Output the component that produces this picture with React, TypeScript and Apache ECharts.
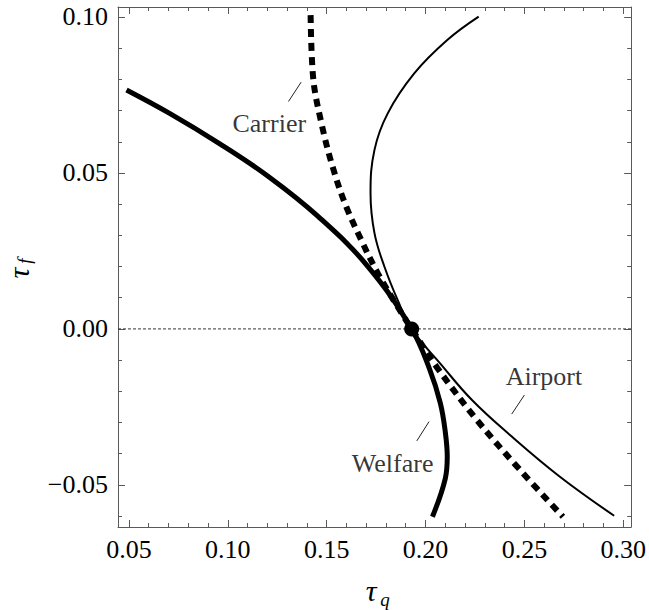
import React, { useEffect, useRef } from "react";
import * as echarts from "echarts";

const SERIF = "Liberation Serif";

// axis ranges and ticks
const X_MIN = 0.0445;
const X_MAX = 0.304;
const Y_MIN = -0.0635;
const Y_MAX = 0.1032;
const xMajorTicks = [0.05, 0.1, 0.15, 0.2, 0.25, 0.3];
const xMinorTicks = [
  0.06, 0.07, 0.08, 0.09, 0.11, 0.12, 0.13, 0.14, 0.16, 0.17, 0.18, 0.19,
  0.21, 0.22, 0.23, 0.24, 0.26, 0.27, 0.28, 0.29,
];
const yMajorTicks = [-0.05, 0, 0.05, 0.1];
const yMinorTicks = [
  -0.06, -0.04, -0.03, -0.02, -0.01, 0.01, 0.02, 0.03, 0.04, 0.06, 0.07, 0.08, 0.09,
];

// curves [tau_q, tau_f]
const welfareCurve = [
  [0.0488, 0.0766], [0.0706, 0.0691], [0.0956, 0.0595], [0.1207, 0.0488],
  [0.1458, 0.036], [0.1709, 0.02], [0.193, 0.0], [0.2022, -0.0131],
  [0.2075, -0.0238], [0.2100, -0.0330], [0.2110, -0.0410], [0.2100, -0.0480],
  [0.2035, -0.0602],
];
const carrierCurve = [
  [0.1419, 0.1006], [0.1433, 0.0798], [0.1474, 0.0659], [0.1525, 0.0531],
  [0.1592, 0.0403], [0.1675, 0.0285], [0.1759, 0.0178], [0.1859, 0.0071],
  [0.193, 0.0], [0.206, -0.0125], [0.226, -0.0292], [0.2478, -0.0452],
  [0.2695, -0.0602],
];
const airportCurve = [
  [0.2269, 0.1001], [0.211, 0.0926], [0.1943, 0.0819], [0.1809, 0.0691],
  [0.1742, 0.0574], [0.1722, 0.0435], [0.1742, 0.0307], [0.1792, 0.02],
  [0.1859, 0.0093], [0.193, 0.0], [0.2076, -0.0112], [0.2235, -0.0228],
  [0.2427, -0.034], [0.2678, -0.0473], [0.2954, -0.0599],
];
const equilibriumPoint = [[0.193, 0]];

// annotations
const labelNames = ["Carrier", "Airport", "Welfare"];
const labelAnchors = [
  [0.121, 0.0657],
  [0.2599, -0.0151],
  [0.1834, -0.0433],
];
const leaderSegments = [
  [[0.1307, 0.0729], [0.1371, 0.0791]],
  [[0.2436, -0.0273], [0.25, -0.0212]],
  [[0.1956, -0.0359], [0.2018, -0.0297]],
];

const FRAME = "#5a5a5a";

const fmt = (v: number) => {
  const s = Math.abs(v).toFixed(2);
  return v < -1e-9 ? "\u2212" + s : s;
};

function makeX(position: "bottom" | "top", ticks: number[], len: number, line: boolean, labels: boolean) {
  return {
    type: "value",
    position,
    min: X_MIN,
    max: X_MAX,
    axisLine: { show: line, onZero: false, lineStyle: { color: FRAME, width: 1 } },
    axisTick: { show: true, inside: true, length: len, customValues: ticks, lineStyle: { color: FRAME, width: 1 } },
    axisLabel: {
      show: labels,
      customValues: ticks,
      formatter: fmt,
      fontFamily: SERIF,
      fontSize: 26,
      color: "#000",
      margin: 9,
    },
    splitLine: { show: false },
  };
}

function makeY(position: "left" | "right", ticks: number[], len: number, line: boolean, labels: boolean) {
  return {
    type: "value",
    position,
    min: Y_MIN,
    max: Y_MAX,
    axisLine: { show: line, onZero: false, lineStyle: { color: FRAME, width: 1 } },
    axisTick: { show: true, inside: true, length: len, customValues: ticks, lineStyle: { color: FRAME, width: 1 } },
    axisLabel: {
      show: labels,
      customValues: ticks,
      formatter: fmt,
      fontFamily: SERIF,
      fontSize: 26,
      color: "#000",
      margin: 10,
    },
    splitLine: { show: false },
  };
}

export default function App() {
  const ref = useRef<HTMLDivElement>(null);
  useEffect(() => {
    if (!ref.current) return;
    const chart = echarts.init(ref.current, null, { renderer: "svg" });
    chart.setOption({
      animation: false,
      backgroundColor: "#fff",
      textStyle: { fontFamily: SERIF },
      grid: { left: 118, right: 14, top: 7, bottom: 83, containLabel: false },
      xAxis: [
        makeX("bottom", xMajorTicks, 7, true, true),
        makeX("bottom", xMinorTicks, 4, false, false),
        makeX("top", xMajorTicks, 7, true, false),
        makeX("top", xMinorTicks, 4, false, false),
      ],
      yAxis: [
        makeY("left", yMajorTicks, 7, true, true),
        makeY("left", yMinorTicks, 4, false, false),
        makeY("right", yMajorTicks, 7, true, false),
        makeY("right", yMinorTicks, 4, false, false),
      ],
      graphic: [
        {
          type: "group",
          x: 18,
          y: 270,
          rotation: Math.PI / 2,
          children: [
            {
              type: "text",
              x: -3,
              y: 0,
              style: {
                text: "\u03c4",
                fontFamily: SERIF,
                fontStyle: "italic",
                fontSize: 30,
                fill: "#000",
                textAlign: "center",
                textVerticalAlign: "middle",
              },
            },
            {
              type: "text",
              x: 9,
              y: 6,
              style: {
                text: "f",
                fontFamily: SERIF,
                fontStyle: "italic",
                fontSize: 19,
                fill: "#000",
                textAlign: "center",
                textVerticalAlign: "middle",
              },
            },
          ],
        },
        {
          type: "text",
          x: 371,
          y: 590,
          style: {
            text: "\u03c4",
            fontFamily: SERIF,
            fontStyle: "italic",
            fontSize: 30,
            fill: "#000",
            textAlign: "center",
            textVerticalAlign: "middle",
          },
        },
        {
          type: "text",
          x: 385,
          y: 599,
          style: {
            text: "q",
            fontFamily: SERIF,
            fontStyle: "italic",
            fontSize: 19,
            fill: "#000",
            textAlign: "center",
            textVerticalAlign: "middle",
          },
        },
      ],
      series: [
        {
          name: "zero",
          type: "line",
          data: [[X_MIN, 0], [X_MAX, 0]],
          showSymbol: false,
          silent: true,
          lineStyle: { color: "#333", width: 1, type: [3, 2] },
          z: 1,
        },
        {
          name: "Welfare",
          type: "line",
          data: welfareCurve,
          showSymbol: false,
          smooth: 0.4,
          lineStyle: { color: "#000", width: 5, cap: "butt" },
          z: 3,
        },
        {
          name: "Carrier",
          type: "line",
          data: carrierCurve,
          showSymbol: false,
          smooth: 0.35,
          lineStyle: { color: "#000", width: 6, type: [8, 6], cap: "butt" },
          z: 3,
        },
        {
          name: "Airport",
          type: "line",
          data: airportCurve,
          showSymbol: false,
          smooth: 0.4,
          lineStyle: { color: "#000", width: 2 },
          z: 3,
        },
        {
          name: "equilibrium",
          type: "scatter",
          data: equilibriumPoint,
          symbolSize: 15,
          itemStyle: { color: "#000", opacity: 1 },
          z: 4,
        },
        {
          name: "leaders",
          type: "lines",
          coordinateSystem: "cartesian2d",
          data: leaderSegments.map((c) => ({ coords: c })),
          lineStyle: { color: "#222", width: 1, opacity: 1 },
          symbol: ["none", "none"],
          z: 2,
        },
        {
          name: "labels",
          type: "scatter",
          data: labelNames.map((n, i) => ({ name: n, value: labelAnchors[i] })),
          symbolSize: 0,
          label: {
            show: true,
            position: "inside",
            formatter: "{b}",
            fontFamily: SERIF,
            fontSize: 26,
            color: "#000",
          },
          z: 5,
        },
      ],
    });
    return () => chart.dispose();
  }, []);
  return (
    <div
      ref={ref}
      style={{ position: "fixed", left: 0, top: 0, width: 649, height: 610, background: "#fff" }}
    />
  );
}
